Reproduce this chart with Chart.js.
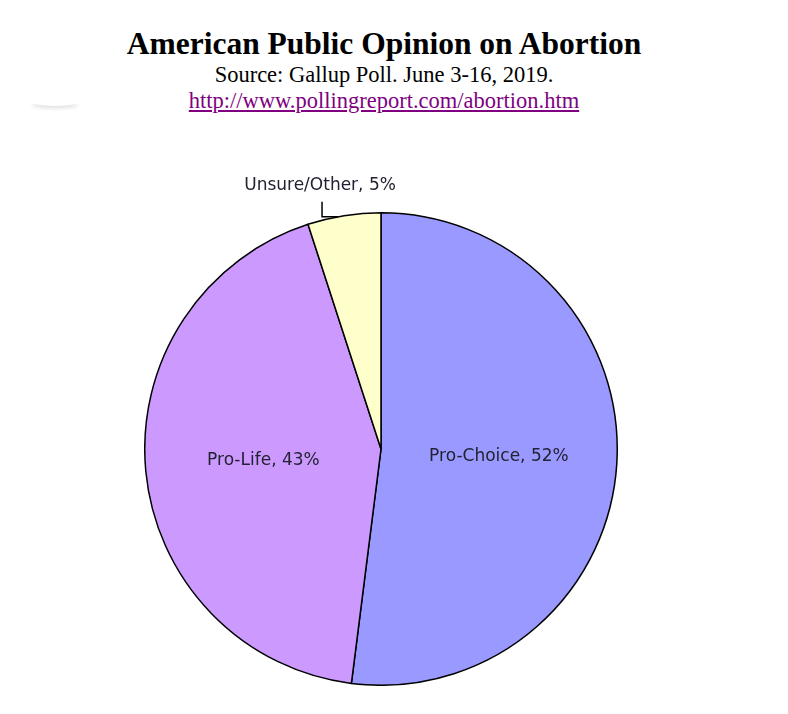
<!DOCTYPE html>
<html>
<head>
<meta charset="utf-8">
<script src="https://cdn.jsdelivr.net/npm/chart.js@4"></script>
<style>
  body { margin: 0; background: #fff; width: 788px; height: 714px; position: relative; overflow: hidden; }
  .head { position: absolute; left: 0; top: 26px; width: 768px; text-align: center; font-family: "Liberation Serif", "Times New Roman", serif; }
  .head h1 { margin: 0; font-size: 31.5px; line-height: 36px; font-weight: bold; }
  .head p { margin: 0; font-size: 22.5px; line-height: 26px; }
  .head a { color: #800080; }
  .shade { position: absolute; left: 30px; top: 96px; width: 50px; height: 10px; border-radius: 50%; box-shadow: 0 4px 4px -2px #ddd; }
  #box { position: absolute; left: 144px; top: 162px; width: 474px; height: 524px; }
</style>
</head>
<body>
<div class="head">
  <h1>American Public Opinion on Abortion</h1>
  <p>Source: Gallup Poll. June 3-16, 2019.</p>
  <p><a href="http://www.pollingreport.com/abortion.htm">http://www.pollingreport.com/abortion.htm</a></p>
</div>
<div class="shade"></div>
<div id="box"><canvas id="grafico"></canvas></div>
<script>
const categorias = ['Pro-Choice', 'Pro-Life', 'Unsure/Other'];
const percentuais = [52, 43, 5];
const cores = ['#9999FF', '#CC99FF', '#FFFFCC'];

// rótulos dentro das fatias, e o pequeno com linha guia por fora
const rotulos = {
  id: 'rotulos',
  afterDatasetsDraw(chart) {
    const ctx = chart.ctx;
    const arcos = chart.getDatasetMeta(0).data;
    ctx.save();
    ctx.font = '17px "DejaVu Sans", Tahoma, sans-serif';
    ctx.fillStyle = '#222233';
    ctx.textAlign = 'center';
    ctx.textBaseline = 'middle';
    arcos.forEach((arco, i) => {
      const texto = categorias[i] + ', ' + percentuais[i] + '%';
      if (percentuais[i] >= 10) {
        const p = arco.tooltipPosition();
        ctx.fillText(texto, p.x, p.y);
      } else {
        const meio = (arco.startAngle + arco.endAngle) / 2;
        const x = arco.x + Math.cos(meio) * arco.outerRadius;
        const y = arco.y + Math.sin(meio) * arco.outerRadius;
        ctx.strokeStyle = '#000';
        ctx.lineWidth = 1.5;
        ctx.beginPath();
        ctx.moveTo(x - 6, y + 1);
        ctx.lineTo(x - 22, y + 1);
        ctx.lineTo(x - 22, y - 14);
        ctx.stroke();
        ctx.fillText(texto, x - 24, y - 30);
      }
    });
    ctx.restore();
  }
};

new Chart(document.getElementById('grafico'), {
  type: 'pie',
  data: {
    labels: categorias,
    datasets: [{
      data: percentuais,
      backgroundColor: cores,
      borderColor: '#000',
      borderWidth: 1.5
    }]
  },
  options: {
    responsive: true,
    maintainAspectRatio: false,
    animation: false,
    layout: { padding: { top: 50 } },
    plugins: {
      legend: { display: false },
      tooltip: { enabled: false }
    }
  },
  plugins: [rotulos]
});
</script>
</body>
</html>
